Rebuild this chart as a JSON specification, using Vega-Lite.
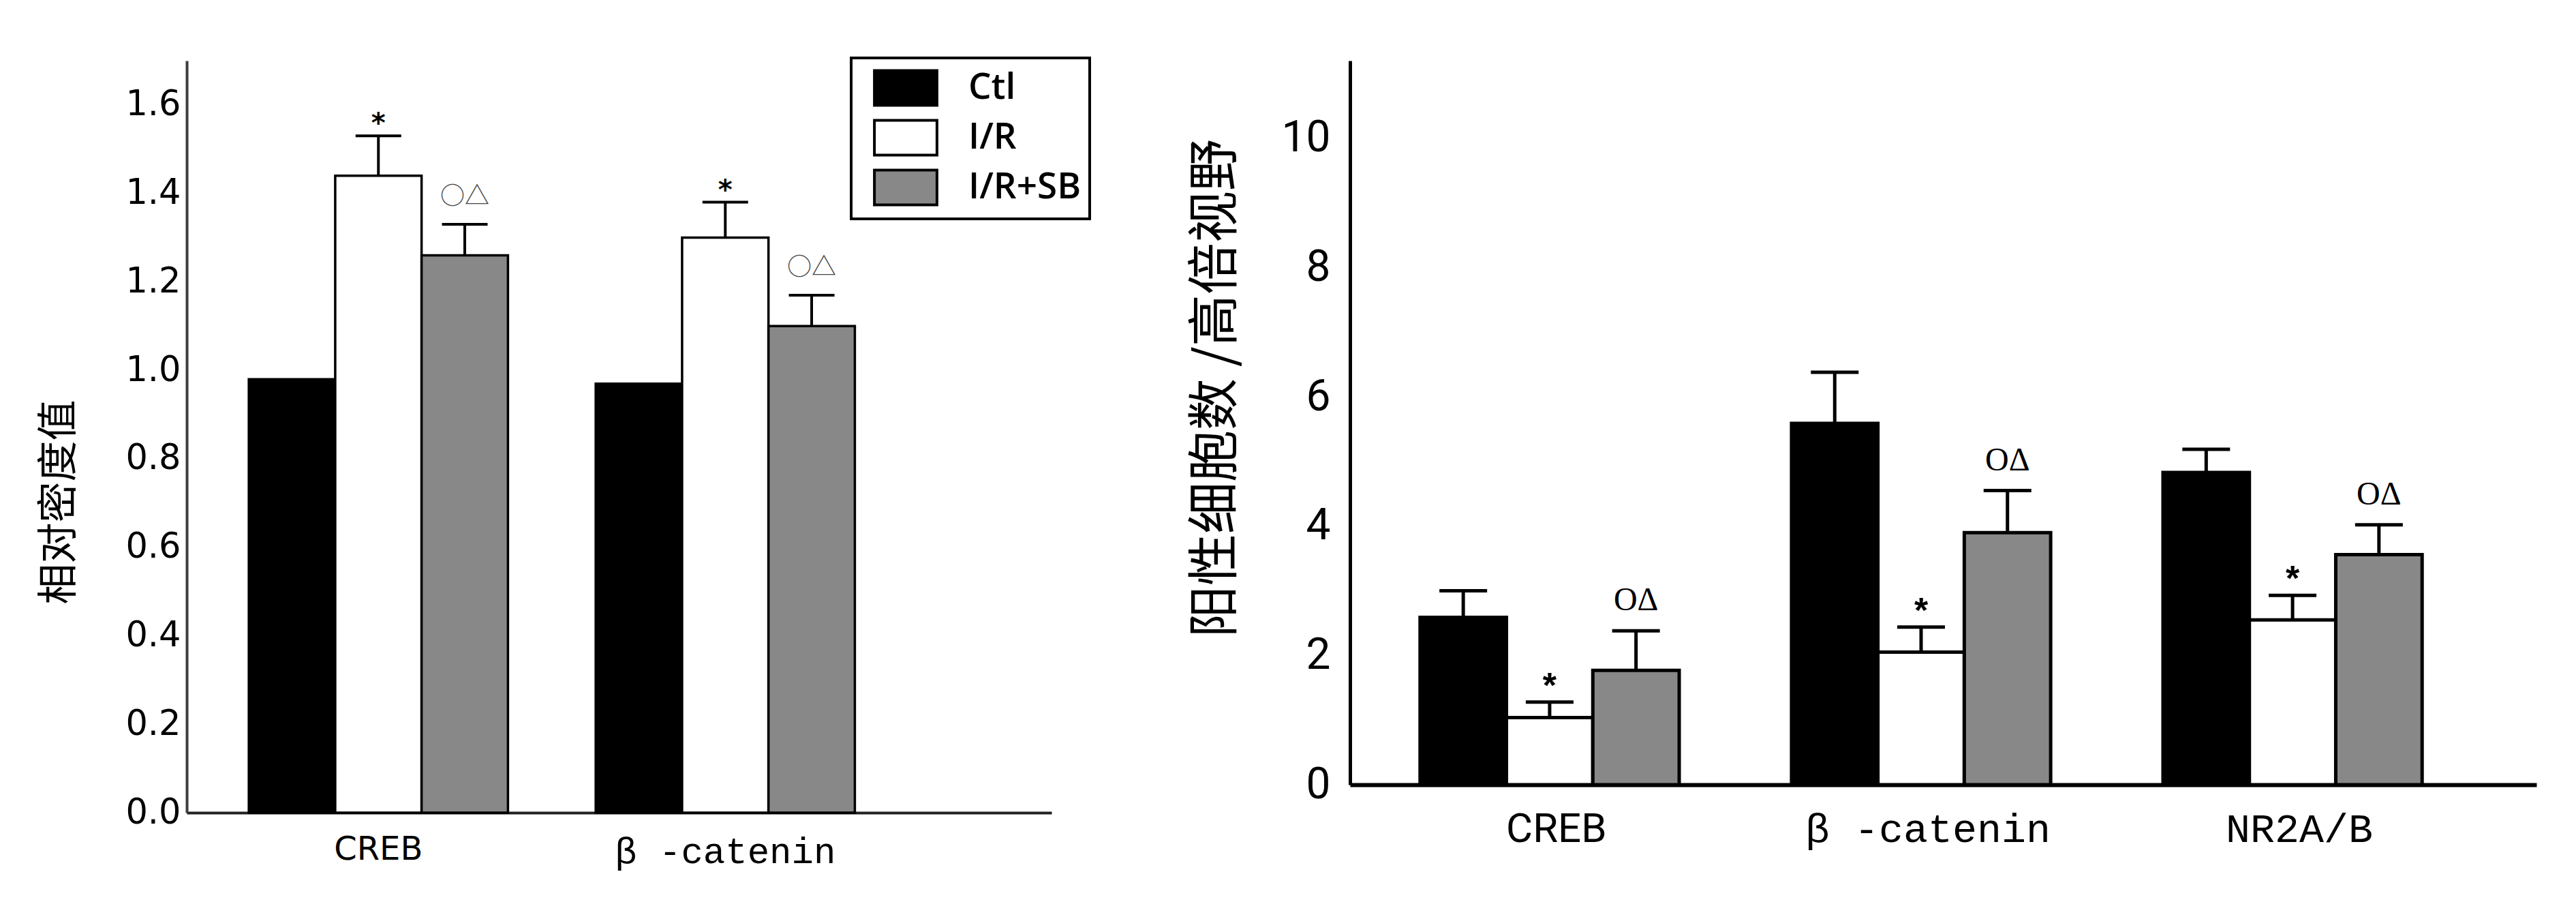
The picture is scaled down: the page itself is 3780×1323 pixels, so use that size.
{
  "$schema": "https://vega.github.io/schema/vega-lite/v6.json",
  "background": "white",
  "padding": {"left": 57, "top": 83, "right": 10, "bottom": 10},
  "spacing": 202,
  "config": {
    "view": {"stroke": null},
    "axis": {"grid": false, "ticks": false}
  },
  "datasets": {
    "density": [
      {"gene": "CREB", "group": "Ctl", "mean": 0.98, "upper": null, "sig": ""},
      {"gene": "CREB", "group": "I/R", "mean": 1.44, "upper": 1.53, "sig": "*"},
      {"gene": "CREB", "group": "I/R+SB", "mean": 1.26, "upper": 1.33, "sig": "○△"},
      {"gene": "β -catenin", "group": "Ctl", "mean": 0.97, "upper": null, "sig": ""},
      {"gene": "β -catenin", "group": "I/R", "mean": 1.30, "upper": 1.38, "sig": "*"},
      {"gene": "β -catenin", "group": "I/R+SB", "mean": 1.10, "upper": 1.17, "sig": "○△"}
    ],
    "counts": [
      {"gene": "CREB", "group": "Ctl", "mean": 2.59, "upper": 3.00, "sig": ""},
      {"gene": "CREB", "group": "I/R", "mean": 1.04, "upper": 1.28, "sig": "*"},
      {"gene": "CREB", "group": "I/R+SB", "mean": 1.77, "upper": 2.38, "sig": "OΔ"},
      {"gene": "β -catenin", "group": "Ctl", "mean": 5.59, "upper": 6.38, "sig": ""},
      {"gene": "β -catenin", "group": "I/R", "mean": 2.05, "upper": 2.44, "sig": "*"},
      {"gene": "β -catenin", "group": "I/R+SB", "mean": 3.90, "upper": 4.55, "sig": "OΔ"},
      {"gene": "NR2A/B", "group": "Ctl", "mean": 4.83, "upper": 5.19, "sig": ""},
      {"gene": "NR2A/B", "group": "I/R", "mean": 2.55, "upper": 2.93, "sig": "*"},
      {"gene": "NR2A/B", "group": "I/R+SB", "mean": 3.56, "upper": 4.02, "sig": "OΔ"}
    ]
  },
  "hconcat": [
    {
      "width": 1269,
      "height": 1103,
      "data": {"name": "density"},
      "encoding": {
        "x": {
          "field": "gene", "type": "nominal", "sort": ["CREB", "β -catenin"],
          "scale": {"paddingInner": 0.253, "paddingOuter": 0.373, "align": 0.24},
          "axis": {
            "title": null, "labelAngle": 0, "labelPadding": 30, "labelBaseline": "top",
            "labelColor": "black", "labelLimit": 1000,
            "labelFont": {"condition": {"test": "datum.value === 'CREB'", "value": "DejaVu Sans"}, "value": "Liberation Mono"},
            "labelFontSize": {"condition": {"test": "datum.value === 'CREB'", "value": 48}, "value": 54},
            "domainColor": "#222222", "domainWidth": 4
          }
        },
        "xOffset": {
          "field": "group", "type": "nominal", "sort": ["Ctl", "I/R", "I/R+SB"],
          "scale": {"paddingInner": 0, "paddingOuter": 0}
        }
      },
      "layer": [
        {
          "mark": {"type": "bar", "stroke": "black", "strokeWidth": 3.5},
          "encoding": {
            "y": {
              "field": "mean", "type": "quantitative",
              "scale": {"domain": [0, 1.7], "nice": false},
              "axis": {
                "title": "相对密度值", "titleFont": "Noto Sans CJK SC", "titleFontSize": 60,
                "titleFontWeight": "normal", "titleColor": "black",
                "titleX": -187, "titleY": 647, "titleBaseline": "middle", "titleAngle": 270,
                "values": [0, 0.2, 0.4, 0.6, 0.8, 1.0, 1.2, 1.4, 1.6], "format": ".1f",
                "labelFont": "DejaVu Sans", "labelFontSize": 51, "labelColor": "black",
                "labelPadding": 9, "domainColor": "#3c3c3c", "domainWidth": 4
              }
            },
            "fill": {
              "field": "group", "type": "nominal", "sort": ["Ctl", "I/R", "I/R+SB"],
              "scale": {"domain": ["Ctl", "I/R", "I/R+SB"], "range": ["#000000", "#ffffff", "#888888"]},
              "legend": {
                "title": null, "orient": "none", "legendX": 975, "legendY": -4,
                "direction": "vertical",
                "symbolType": "M-1.53,-0.85H1.53V0.85H-1.53Z", "symbolSize": 3600,
                "symbolStrokeColor": "black", "symbolStrokeWidth": 4, "symbolOpacity": 1,
                "symbolOffset": 36,
                "labelFont": "Open Sans", "labelFontWeight": 600, "labelFontSize": 53,
                "labelColor": "black", "labelOffset": 60, "labelLimit": 500,
                "padding": 12, "rowPadding": 5, "strokeColor": "black",
                "encode": {
                  "legend": {"update": {"strokeWidth": {"value": 4}}},
                  "symbols": {"update": {
                    "fill": {"signal": "datum.value === 'I/R+SB' ? '#b3b3b3' : scale('fill', datum.value)"},
                    "stroke": {"value": "black"},
                    "strokeWidth": {"value": 4}
                  }}
                }
              }
            }
          }
        },
        {
          "transform": [{"filter": "isValid(datum.upper)"}],
          "mark": {"type": "rule", "color": "black", "strokeWidth": 4},
          "encoding": {
            "y": {"field": "mean", "type": "quantitative", "scale": {"domain": [0, 1.7], "nice": false}},
            "y2": {"field": "upper"}
          }
        },
        {
          "transform": [{"filter": "isValid(datum.upper)"}],
          "mark": {"type": "tick", "color": "black", "orient": "horizontal", "size": 67, "thickness": 4, "opacity": 1},
          "encoding": {
            "y": {"field": "upper", "type": "quantitative", "scale": {"domain": [0, 1.7], "nice": false}}
          }
        },
        {
          "transform": [{"filter": "datum.sig === '*'"}],
          "mark": {"type": "text", "font": "DejaVu Sans", "fontWeight": "bold", "fontSize": 40, "baseline": "alphabetic", "dy": -5, "color": "black"},
          "encoding": {
            "y": {"field": "upper", "type": "quantitative", "scale": {"domain": [0, 1.7], "nice": false}},
            "text": {"field": "sig"}
          }
        },
        {
          "transform": [{"filter": "datum.sig === '○△'"}],
          "mark": {"type": "text", "font": "Noto Sans CJK SC", "fontSize": 36, "baseline": "alphabetic", "dy": -29, "color": "#444444"},
          "encoding": {
            "y": {"field": "upper", "type": "quantitative", "scale": {"domain": [0, 1.7], "nice": false}},
            "text": {"field": "sig"}
          }
        }
      ]
    },
    {
      "width": 1741,
      "height": 1062,
      "data": {"name": "counts"},
      "encoding": {
        "x": {
          "field": "gene", "type": "nominal", "sort": ["CREB", "β -catenin", "NR2A/B"],
          "scale": {"paddingInner": 0.266, "paddingOuter": 0.23, "align": 0.41},
          "axis": {
            "title": null, "labelAngle": 0, "labelPadding": 36, "labelBaseline": "top",
            "labelColor": "black", "labelLimit": 1000,
            "labelFont": {"condition": {"test": "datum.value === 'CREB'", "value": "Roboto"}, "value": "Liberation Mono"},
            "labelFontSize": 60,
            "domainColor": "black", "domainWidth": 6
          }
        },
        "xOffset": {
          "field": "group", "type": "nominal", "sort": ["Ctl", "I/R", "I/R+SB"],
          "scale": {"paddingInner": 0, "paddingOuter": 0}
        }
      },
      "layer": [
        {
          "mark": {"type": "bar", "stroke": "black", "strokeWidth": 5},
          "encoding": {
            "y": {
              "field": "mean", "type": "quantitative",
              "scale": {"domain": [0, 11.2], "nice": false},
              "axis": {
                "title": "阳性细胞数 /高倍视野", "titleFont": "Noto Sans CJK SC", "titleFontSize": 76,
                "titleFontWeight": "normal", "titleColor": "black",
                "titleX": -197, "titleY": 480, "titleBaseline": "middle", "titleAngle": 270,
                "values": [0, 2, 4, 6, 8, 10], "format": "d",
                "labelFont": "Roboto", "labelFontSize": 64, "labelColor": "black",
                "labelPadding": 29, "domainColor": "black", "domainWidth": 5
              }
            },
            "fill": {
              "field": "group", "type": "nominal", "sort": ["Ctl", "I/R", "I/R+SB"],
              "scale": {"domain": ["Ctl", "I/R", "I/R+SB"], "range": ["#000000", "#ffffff", "#888888"]},
              "legend": null
            }
          }
        },
        {
          "mark": {"type": "rule", "color": "black", "strokeWidth": 5},
          "encoding": {
            "y": {"field": "mean", "type": "quantitative", "scale": {"domain": [0, 11.2], "nice": false}},
            "y2": {"field": "upper"}
          }
        },
        {
          "mark": {"type": "tick", "color": "black", "orient": "horizontal", "size": 70, "thickness": 5, "opacity": 1},
          "encoding": {
            "y": {"field": "upper", "type": "quantitative", "scale": {"domain": [0, 11.2], "nice": false}}
          }
        },
        {
          "transform": [{"filter": "datum.sig === '*'"}],
          "mark": {"type": "text", "font": "Liberation Sans", "fontWeight": "bold", "fontSize": 52, "baseline": "alphabetic", "dy": -7, "color": "black"},
          "encoding": {
            "y": {"field": "upper", "type": "quantitative", "scale": {"domain": [0, 11.2], "nice": false}},
            "text": {"field": "sig"}
          }
        },
        {
          "transform": [{"filter": "datum.sig === 'OΔ'"}],
          "mark": {"type": "text", "font": "Liberation Serif", "fontSize": 48, "baseline": "alphabetic", "dy": -30, "color": "black"},
          "encoding": {
            "y": {"field": "upper", "type": "quantitative", "scale": {"domain": [0, 11.2], "nice": false}},
            "text": {"field": "sig"}
          }
        }
      ]
    }
  ]
}
